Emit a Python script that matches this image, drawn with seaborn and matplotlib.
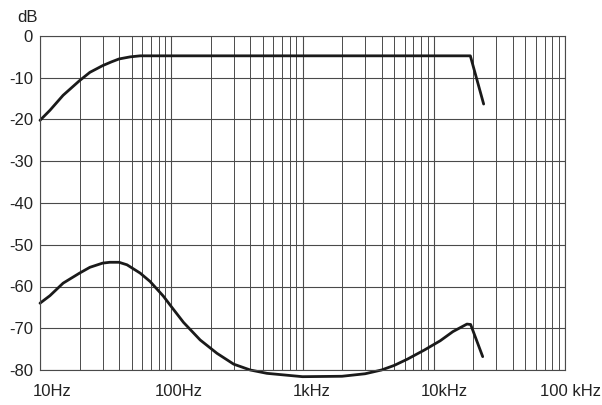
import numpy as np
import pandas as pd
import seaborn as sns
import matplotlib
matplotlib.use("Agg")
import matplotlib.pyplot as plt
from matplotlib.ticker import LogLocator, NullFormatter, FixedLocator
from matplotlib.transforms import ScaledTranslation

# Upper curve (frequency response)
freq_top = [10, 11.9, 15, 20, 24, 30, 35, 40, 48.6, 58, 100, 1000, 10000, 19000, 24000]
db_top = [-20.2, -17.8, -14.2, -10.7, -8.7, -7.1, -6.2, -5.5, -5.0, -4.75, -4.75, -4.75,
          -4.75, -4.75, -16.3]

# Lower curve
freq_bot = [10, 11.9, 15, 20, 24, 30, 34, 40, 46, 58, 69, 87, 100, 124, 166, 223, 299, 400,
            536, 1000, 2000, 3000, 4000, 5000, 6300, 8500, 11200, 14000, 17900, 19100, 23600]
db_bot = [-64.0, -62.2, -59.2, -56.8, -55.4, -54.4, -54.2, -54.2, -54.8, -56.8, -58.8, -62.3,
          -64.8, -68.6, -72.8, -76.0, -78.6, -80.0, -80.8, -81.6, -81.5, -80.9, -80.0, -78.9,
          -77.4, -75.2, -73.0, -70.8, -69.0, -69.1, -76.8]

x_ticks = [10, 100, 1000, 10000, 100000]
x_labels = ["10Hz", "100Hz", "1kHz", "10kHz", "100 kHz"]
y_ticks = [0, -10, -20, -30, -40, -50, -60, -70, -80]
y_labels = ["0", "-10", "-20", "-30", "-40", "-50", "-60", "-70", "-80"]

sns.set_theme(style="white")
plt.rcParams["font.family"] = ["Liberation Sans", "DejaVu Sans"]

fig = plt.figure(figsize=(6.02, 4.05), dpi=100)
ax = fig.add_axes([40 / 602, 1 - 370 / 405, 525 / 602, 334 / 405])

df_top = pd.DataFrame({"f": freq_top, "db": db_top})
df_bot = pd.DataFrame({"f": freq_bot, "db": db_bot})
sns.lineplot(data=df_top, x="f", y="db", ax=ax, color="#1a1a1a", lw=2.0, sort=False, clip_on=False)
sns.lineplot(data=df_bot, x="f", y="db", ax=ax, color="#1a1a1a", lw=2.0, sort=False, clip_on=False)

ax.set_xscale("log")
ax.set_xlim(10, 100000)
ax.set_ylim(-80, 0)
ax.set_xlabel("")
ax.set_ylabel("")

grid_color = "#4a4a4a"
ax.xaxis.set_major_locator(FixedLocator(x_ticks))
ax.xaxis.set_minor_locator(LogLocator(base=10, subs=np.arange(2, 10)))
ax.xaxis.set_minor_formatter(NullFormatter())
ax.set_xticks(x_ticks)
ax.set_xticklabels(x_labels, fontsize=12, color="#222222")
ax.set_yticks(y_ticks)
ax.set_yticklabels(y_labels, fontsize=12, color="#222222")
ax.grid(True, which="major", axis="both", color=grid_color, lw=0.8)
ax.grid(True, which="minor", axis="x", color=grid_color, lw=0.7)
ax.tick_params(axis="both", which="both", length=0, pad=5)
ax.tick_params(axis="x", pad=10)

shifts = [12, 8, 9, 11, 5]
for lab, sh in zip(ax.get_xticklabels(), shifts):
    lab.set_transform(lab.get_transform() + ScaledTranslation(sh / 100, 0, fig.dpi_scale_trans))

for s in ax.spines.values():
    s.set_color(grid_color)
    s.set_linewidth(0.8)

fig.text(17 / 602, 1 - 18 / 405, "dB", fontsize=12, color="#222222", ha="left", va="center")

fig.savefig("out.png", dpi=100, facecolor="white")
